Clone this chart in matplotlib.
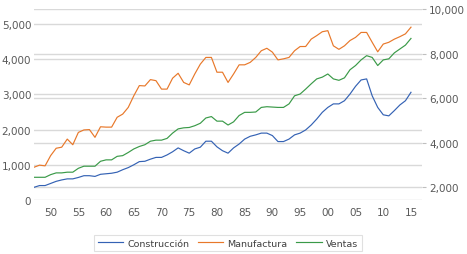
import matplotlib
matplotlib.use('Agg')
import matplotlib.pyplot as plt

years = list(range(1947, 2016))
construccion = [360, 410, 410, 470, 530, 570, 600, 600, 640, 690,
                690, 670, 730, 745, 760, 790, 860, 920, 1000, 1090,
                1100, 1160, 1210, 1210, 1280, 1370, 1480, 1400, 1330, 1450,
                1500, 1670, 1670, 1510, 1400, 1330, 1480, 1590, 1730, 1810,
                1850, 1900, 1900, 1830, 1660, 1660, 1730, 1850, 1900, 1990,
                2130, 2300, 2490, 2630, 2730, 2730, 2820, 3010, 3230, 3410,
                3440, 2960, 2630, 2420, 2390, 2540, 2700, 2820, 3060]
manufactura = [930, 990, 970, 1260, 1470, 1500, 1730, 1570, 1920, 1990,
               2000, 1780, 2080, 2070, 2070, 2350, 2440, 2630, 2960, 3250,
               3240, 3420, 3390, 3150, 3150, 3460, 3600, 3340, 3270, 3580,
               3860, 4050, 4050, 3630, 3630, 3340, 3580, 3840, 3840, 3910,
               4050, 4240, 4310, 4200, 3980, 4010, 4050, 4240, 4360, 4360,
               4570, 4670, 4780, 4810, 4380, 4280, 4380, 4530, 4620, 4760,
               4760, 4480, 4210, 4430, 4480, 4570, 4640, 4720, 4910]
ventas = [645, 645, 645, 720, 770, 770, 790, 790, 900, 960,
          960, 960, 1100, 1140, 1140, 1240, 1260, 1350, 1450, 1520,
          1570, 1670, 1700, 1700, 1750, 1900, 2020, 2050, 2060, 2110,
          2180, 2330, 2370, 2240, 2240, 2130, 2220, 2400, 2490, 2490,
          2500, 2630, 2650, 2640, 2630, 2630, 2730, 2960, 3010, 3150,
          3300, 3440, 3490, 3580, 3440, 3400, 3470, 3700, 3820, 3980,
          4100, 4050, 3820, 3980, 4010, 4180, 4290, 4400, 4590]

left_ticks = [0, 1000, 2000, 3000, 4000, 5000]
right_ticks = [2000, 4000, 6000, 8000, 10000]
label_years = list(range(1950, 2016, 5))
grid_years = list(range(1950, 2016, 10))

c_blue = '#3462b4'
c_orange = '#e8782a'
c_green = '#3a9a48'
grid_c = '#d9d9d9'
txt_c = '#595959'

plt.rcParams['font.family'] = 'DejaVu Sans'

fig = plt.figure(figsize=(4.67, 2.55), dpi=100)
ax = fig.add_axes([0.0728, 0.2118, 0.831, 0.749])

l1, = ax.plot(years, construccion, color=c_blue, lw=0.85, label='Construcción')
l2, = ax.plot(years, manufactura, color=c_orange, lw=0.85, label='Manufactura')
l3, = ax.plot(years, ventas, color=c_green, lw=0.85, label='Ventas')

ax.set_xlim(1947, 2017)
ax.set_ylim(0, 5426)
ax.set_yticks(left_ticks)
ax.set_yticklabels([f'{v:,}' if v else '0' for v in left_ticks])
ax.set_xticks(label_years)
ax.set_xticklabels([f'{y % 100:02d}' for y in label_years])
ax.set_xticks(grid_years, minor=True)
ax.tick_params(axis='both', which='both', length=0, labelsize=7.5, colors=txt_c)
ax.tick_params(axis='x', pad=5)
ax.tick_params(axis='y', pad=2)
ax.grid(axis='y', color=grid_c, lw=1.0)
ax.grid(axis='x', which='minor', color=grid_c, lw=1.0)
for s in ax.spines.values():
    s.set_visible(False)
ax.set_axisbelow(True)

# secondary scale on the right
ax2 = ax.twinx()
ax2.set_ylim(1430, 10000)
ax2.set_yticks(right_ticks)
ax2.set_yticklabels([f'{v:,}' for v in right_ticks])
ax2.tick_params(axis='y', length=3, width=0.8, color='#bfbfbf', labelsize=7.5,
                colors=txt_c, pad=2)
ax2.tick_params(axis='y', color='#bfbfbf')
ax2.grid(axis='y', color=grid_c, lw=1.0)
for s in ax2.spines.values():
    s.set_visible(False)
ax2.set_zorder(0)
ax.set_zorder(1)
ax.patch.set_visible(False)

leg = fig.legend(handles=[l1, l2, l3], loc='center', bbox_to_anchor=(0.488, 0.043),
                 ncol=3, fontsize=6.8, frameon=True, fancybox=False,
                 handlelength=2.7, columnspacing=0.9, handletextpad=0.45,
                 borderpad=0.4)
leg.get_frame().set_edgecolor('#d9d9d9')
leg.get_frame().set_linewidth(0.8)
for t in leg.get_texts():
    t.set_color('#404040')

fig.savefig('out.png', dpi=100, facecolor='white')
